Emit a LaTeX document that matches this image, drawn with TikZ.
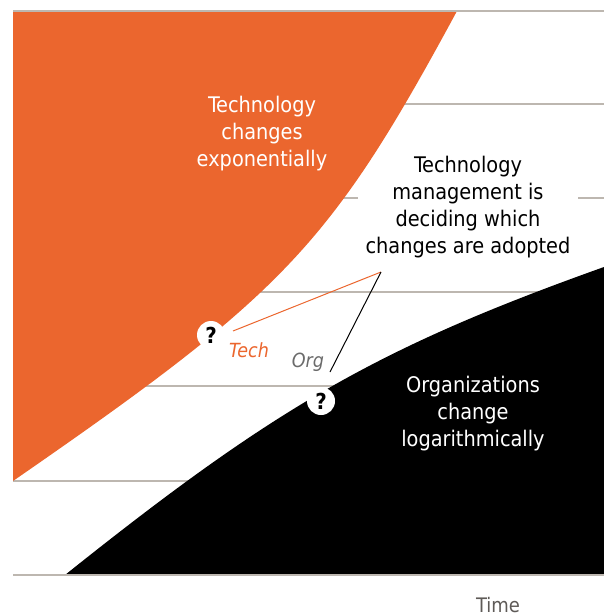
\documentclass[tikz,border=0pt]{standalone}
\usepackage{fontspec}
\setmainfont{DejaVu Sans Condensed}
\begin{document}
\begin{tikzpicture}[x=1pt,y=-1pt,
  grid/.style={draw=gridgray,line width=1.3pt},
  bigtext/.style={font=\fontsize{21.5}{27}\selectfont,align=center,inner sep=0pt},
  qmark/.style={circle,fill=white,minimum size=28pt,inner sep=0pt,font=\fontsize{22}{22}\selectfont\bfseries},
  lbl/.style={font=\fontsize{19.5}{19.5}\selectfont\itshape,inner sep=0pt}]
\definecolor{techorange}{HTML}{EB662E}
\definecolor{gridgray}{HTML}{BDB7B0}
\definecolor{orggray}{HTML}{6B6B6B}
\definecolor{timegray}{HTML}{5E5A57}
\useasboundingbox (0,0) rectangle (604,613);
% grid lines
\foreach \yy in {104,198,292,386,481}{
  \draw[grid] (13,\yy) -- (604,\yy);
}
% management text on white panel (behind the orange region)
\node[bigtext,fill=white,inner xsep=8pt,inner ysep=10pt] (mgmt) at (468,207) {Technology\\management is\\deciding which\\changes are adopted};
% orange region
\fill[techorange] (13,11) -- (13,481) .. controls (285,293) and (330,246) .. (457,11) -- cycle;
% black region
\fill[black] (604,575) -- (65,575) .. controls (277.5,405) and (380,347) .. (604,267) -- cycle;
% frame lines
\draw[grid] (13,11) -- (604,11);
\draw[grid] (13,575) -- (604,575);
% texts
\node[bigtext,text=white] (techtxt) at (262,134) {Technology\\changes\\exponentially};
\node[bigtext,text=white] (orgtxt) at (473,414) {Organizations\\change\\logarithmically};
% question marks
\node[qmark] (q1) at (211,335) {?};
\node[qmark] (q2) at (321,401) {?};
% labels
\node[lbl,text=techorange] (tech) at (249,350) {Tech};
\node[lbl,text=orggray] (org) at (308,362) {Org};
% connectors
\coordinate (meet) at (381,272);
\coordinate (techend) at (233,331);
\coordinate (orgend) at (330,372);
\draw[techorange,line width=1pt] (techend) -- (meet);
\draw[black,line width=1pt] (meet) -- (orgend);
% axis label
\node[font=\fontsize{20}{20}\selectfont,text=timegray,inner sep=0pt,anchor=base] (time) at (498,612) {Time};
\end{tikzpicture}
\end{document}
